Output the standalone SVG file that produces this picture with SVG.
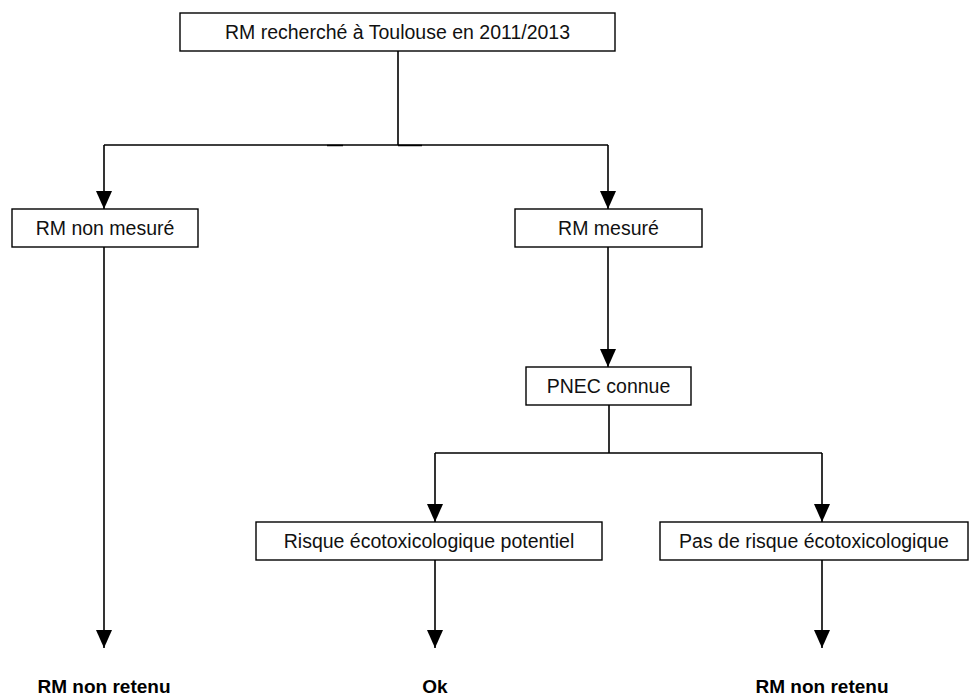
<svg xmlns="http://www.w3.org/2000/svg" width="970" height="696" viewBox="0 0 970 696">
<defs>
<marker id="arr" viewBox="0 0 18 16" refX="18" refY="8" markerWidth="18" markerHeight="16" markerUnits="userSpaceOnUse" orient="auto">
<path d="M0,0 L18,8 L0,16 z" fill="#000"/>
</marker>
<style>
.box{fill:#fff;stroke:#000;stroke-width:1.4}
.t{font-family:"Liberation Sans",Arial,sans-serif;font-size:19.5px;fill:#111;text-anchor:middle}
.b{font-family:"Liberation Sans",Arial,sans-serif;font-size:19px;font-weight:bold;fill:#000;text-anchor:middle}
.c{fill:none;stroke:#000;stroke-width:1.6}
.a{fill:none;stroke:#000;stroke-width:1.6;marker-end:url(#arr)}
</style>
</defs>
<rect width="970" height="696" fill="#fff"/>
<g id="connectors">
<path class="c" d="M398,51 V145 M104,145 H608"/>
<path class="c" d="M327,145.5 H343 M398,145.5 H422" stroke-width="2.2"/>
<path class="a" d="M104,145 V209"/>
<path class="a" d="M608,145 V209"/>
<path class="a" d="M608,247 V367"/>
<path class="c" d="M609,405 V453 M435,453 H822"/>
<path class="a" d="M435,453 V522"/>
<path class="a" d="M822,453 V522"/>
<path class="a" d="M104,247 V648"/>
<path class="a" d="M435,560 V648"/>
<path class="a" d="M822,560 V648"/>
</g>
<g id="n_top">
<rect class="box" x="180" y="13" width="435" height="38"/>
<text class="t" x="397.5" y="39">RM recherché à Toulouse en 2011/2013</text>
</g>
<g id="n_nonmesure">
<rect class="box" x="12" y="209" width="186" height="38"/>
<text class="t" x="105" y="235">RM non mesuré</text>
</g>
<g id="n_mesure">
<rect class="box" x="515" y="209" width="187" height="38"/>
<text class="t" x="608.5" y="235">RM mesuré</text>
</g>
<g id="n_pnec">
<rect class="box" x="526" y="367" width="165" height="38"/>
<text class="t" x="608.5" y="393">PNEC connue</text>
</g>
<g id="n_risque">
<rect class="box" x="256" y="522" width="346" height="38"/>
<text class="t" x="429" y="548">Risque écotoxicologique potentiel</text>
</g>
<g id="n_pasrisque">
<rect class="box" x="660" y="522" width="308" height="38"/>
<text class="t" x="814" y="548">Pas de risque écotoxicologique</text>
</g>
<g id="n_out1"><text class="b" x="104" y="693">RM non retenu</text></g>
<g id="n_out2"><text class="b" x="435" y="693">Ok</text></g>
<g id="n_out3"><text class="b" x="822" y="693">RM non retenu</text></g>
</svg>
